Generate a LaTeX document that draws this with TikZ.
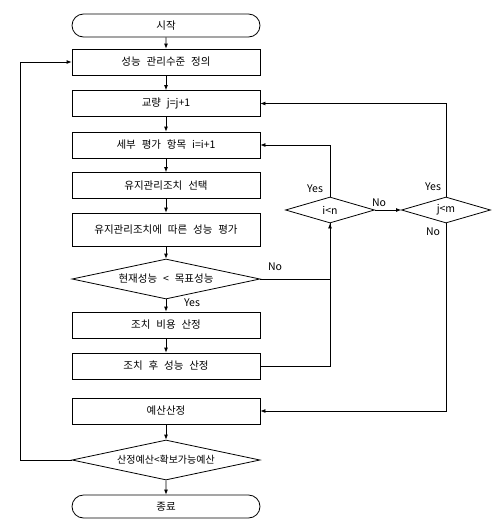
\documentclass[tikz,border=0pt]{standalone}
\usepackage{fontspec}
\setmainfont{Noto Sans CJK KR}[WordSpace=2.5]
\usetikzlibrary{shapes.geometric,shapes.misc,arrows.meta}
\definecolor{white}{RGB}{255,255,255}
\definecolor{black}{RGB}{0,0,0}

\begin{document}
\begin{tikzpicture}[x=1pt,y=-1pt,line width=0.8pt,
	font=\fontsize{10.5}{12}\selectfont,
	box/.style={rectangle,draw=black,fill=white,minimum width=188pt,minimum height=26pt,inner sep=0pt},
	term/.style={rounded rectangle,draw=black,fill=white,minimum width=188pt,minimum height=23pt,inner sep=0pt},
	cond/.style={diamond,draw=black,fill=white,aspect=4.7,minimum width=188pt,minimum height=40pt,inner sep=0pt},
	small_cond/.style={diamond,draw=black,fill=white,aspect=3.4,minimum width=89pt,minimum height=26pt,inner sep=0pt},
	answer/.style={font=\fontsize{10.5}{12}\selectfont,inner sep=0pt},
	flow/.style={black,-{Latex[length=5pt,width=4pt]}}]
	\fill[white] (0,0) rectangle (498,528);
	\useasboundingbox (0,0) rectangle (498,528);

	\node[term] (start) at (166,25.5) {시작};
	\node[box] (define) at (166,62) {성능 관리수준 정의};
	\node[box] (bridge) at (166,103.5) {교량 j=j+1};
	\node[box] (item) at (166,145) {세부 평가 항목 i=i+1};
	\node[box] (select) at (166,185.5) {유지관리조치 선택};
	\node[box,minimum height=33pt] (eval) at (166,229.5) {유지관리조치에 따른 성능 평가};
	\node[cond] (perf) at (166,279) {현재성능 < 목표성능};
	\node[box] (cost) at (166,325) {조치 비용 산정};
	\node[box] (after) at (166,366) {조치 후 성능 산정};
	\node[box] (budget) at (166,411) {예산산정};
	\node[cond,font=\fontsize{10}{12}\selectfont] (check) at (166,460) {산정예산<확보가능예산};
	\node[term] (end) at (166,506.5) {종료};

	\node[small_cond] (inext) at (330,210) {i<n};
	\node[small_cond] (jnext) at (446,210) {j<m};

	\node[answer] (perf_yes) at (192,303) {Yes};
	\node[answer] (perf_no) at (275,267) {No};
	\node[answer] (inext_yes) at (315,189) {Yes};
	\node[answer] (inext_no) at (379,203) {No};
	\node[answer] (jnext_yes) at (433,187) {Yes};
	\node[answer] (jnext_no) at (433,232) {No};

	\foreach \x/\y in {start/define,define/bridge,bridge/item,item/select,select/eval,eval/perf,perf/cost,cost/after,budget/check,check/end}
		\draw[flow] (\x) -- (\y);

	\draw[flow] (check.west) -- ++(-51,0) |- (define.west);
	\draw[flow] (perf.east) -| (inext.south);
	\draw (after.east) -| (inext.south);
	\draw[flow] (inext.north) |- (item.east);
	\draw[flow] (inext.east) -- (jnext.west);
	\draw[flow] (jnext.north) |- (bridge.east);
	\draw[flow] (jnext.south) |- (budget.east);
\end{tikzpicture}
\end{document}
